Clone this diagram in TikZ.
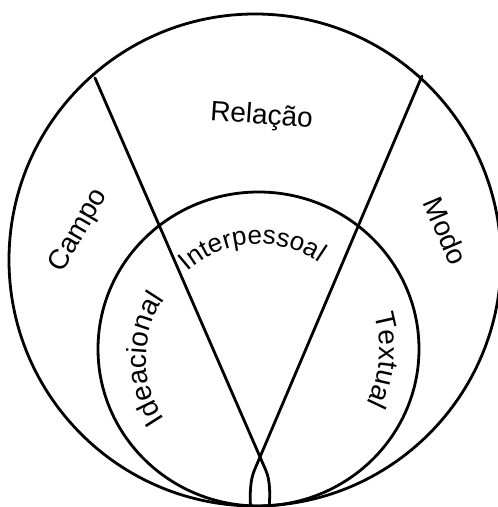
\documentclass[tikz,border=0pt]{standalone}
\usepackage{fontspec}
\setmainfont{Liberation Sans}
\usetikzlibrary{decorations.text}
\definecolor{ink}{HTML}{000000}
\newcommand{\ringfont}{\fontsize{28}{30}\selectfont}
\newcommand{\corefont}{\fontsize{26}{28}\selectfont}
\tikzset{
  ring/.style={draw=ink, line width=2.8pt},
  cut/.style={draw=ink, line width=2.8pt, line cap=round},
  tag/.style={font=\ringfont, text=ink, inner sep=0pt, anchor=base},
  arctag/.style={decorate, decoration={text along path, text align=center, text={#1}}}
}
\begin{document}
\begin{tikzpicture}[x=1pt,y=1pt]
  \useasboundingbox (0,0) rectangle (498,507);
  \clip (0,0) rectangle (498,507);
  \coordinate (oc) at (255,247);
  \coordinate (ic) at (258.5,158);
  \coordinate (dc) at (252,148);
  \draw[ring] (oc) circle[radius=246];
  \draw[ring] (ic) ellipse[x radius=160.5, y radius=157];

  \coordinate (ltop) at (95,429);
  \coordinate (rtop) at (422,431);
  \coordinate (lbend) at (265.7,37);
  \coordinate (rbend) at (254.5,37);
  \coordinate (lend) at (268.5,-8);
  \coordinate (rend) at (251,-8);
  \draw[cut] (ltop) -- (lbend) .. controls (270.3,26.5) and (270.5,12) .. (lend);
  \draw[cut] (rtop) -- (rbend) .. controls (250,26.5) and (249.5,12) .. (rend);

  \node[tag, rotate=-4] (rel) at (261,383) {Relação};
  \node[tag, rotate=60] (campo) at (85,273) {Campo};
  \node[tag, rotate=-67] (modo) at (436.6,272) {Modo};

  \path[arctag={|\corefont|Interpessoal}] ([shift={(ic)}]153.5:105) arc[start angle=153.5, end angle=33.5, radius=105];
  \path[arctag={|\ringfont|Ideacional}] ([shift={(dc)}]240:106) arc[start angle=240, end angle=120, radius=106];
  \path[arctag={|\ringfont|Textual}] ([shift={(ic)}]55:121) arc[start angle=55, end angle=-65, radius=121];
\end{tikzpicture}
\end{document}
